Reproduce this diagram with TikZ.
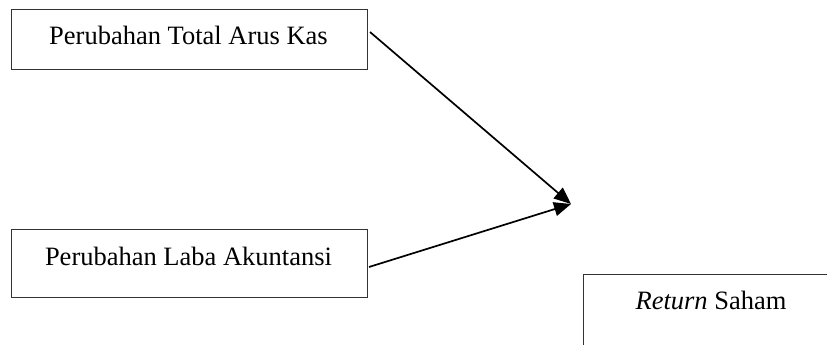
\documentclass[tikz,border=0pt]{standalone}
\usepackage{fontspec}
\setmainfont{Liberation Serif}
\usetikzlibrary{arrows.meta}
\begin{document}
\begin{tikzpicture}[x=1pt,y=-1pt,
  boxstyle/.style={draw=black!80,line width=1.1pt,inner sep=0pt,anchor=north west},
  lbl/.style={inner sep=0pt,anchor=base,font=\fontsize{26.5}{30}\selectfont},
  arr/.style={line width=1.7pt,-{Triangle[length=17pt,width=14pt]}}]
\clip (0,0) rectangle (827,345);
\fill[white] (0,0) rectangle (827,345);
\node[boxstyle,minimum width=356pt,minimum height=60pt] (b1) at (10.5,9) {};
\node[lbl] (t1) at (188.5,44.3) {Perubahan Total Arus Kas};
\node[boxstyle,minimum width=356pt,minimum height=68pt] (b2) at (10.5,229) {};
\node[lbl] (t2) at (188.5,265) {Perubahan Laba Akuntansi};
\node[boxstyle,minimum width=280pt,minimum height=100pt] (b3) at (583,274) {};
\node[lbl] (t3) at (711,309) {\textit{Return} Saham};
\coordinate (s1) at (370,32);
\coordinate (s2) at (369,267);
\coordinate (tip) at (571,204);
\draw[arr] (s1) -- (tip);
\draw[arr] (s2) -- (tip);
\end{tikzpicture}
\end{document}
